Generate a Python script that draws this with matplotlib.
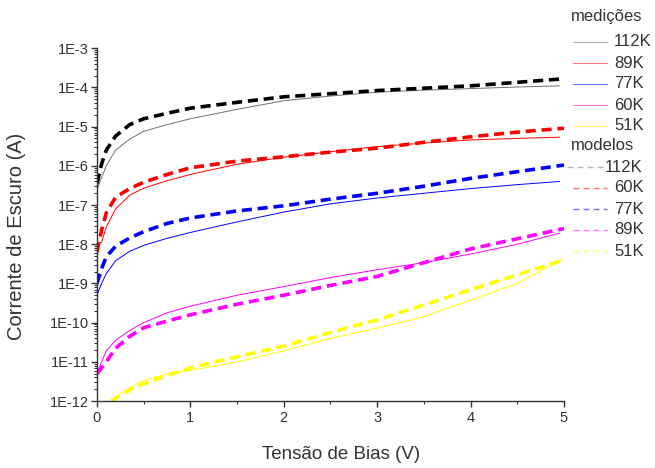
import numpy as np
import matplotlib
matplotlib.use("Agg")
from matplotlib import pyplot as plt
from matplotlib.lines import Line2D
from matplotlib.ticker import LogLocator, FixedLocator, MultipleLocator

plt.rcParams['font.family'] = ['Liberation Sans', 'DejaVu Sans']

# tension (V) where values were read
v = [0, 0.05, 0.1, 0.2, 0.35, 0.5, 0.75, 1, 1.5, 2, 2.5, 3, 3.5, 4, 4.5, 5]
v_meas = [0, 0.05, 0.1, 0.2, 0.35, 0.5, 0.75, 1, 1.5, 2, 2.5, 3, 3.5, 4, 4.5, 4.95]
v_y = [0.2, 0.35, 0.5, 0.75, 1, 1.5, 2, 2.5, 3, 3.5, 4, 4.5, 5]
v_ym = [0.15, 0.35, 0.5, 0.75, 1, 1.5, 2, 2.5, 3, 3.5, 4, 4.5, 5]

# log10 of current (A), measured
m112 = [-6.6, -6.3, -6.0, -5.6, -5.32, -5.12, -4.95, -4.8, -4.56, -4.34, -4.22, -4.12, -4.07, -4.03, -3.99, -3.96]
m89 = [-8.0, -7.95, -7.56, -7.1, -6.75, -6.57, -6.38, -6.22, -5.96, -5.78, -5.64, -5.51, -5.42, -5.34, -5.3, -5.27]
m77 = [-9.3, -9.0, -8.75, -8.42, -8.18, -8.03, -7.85, -7.7, -7.43, -7.18, -6.97, -6.82, -6.7, -6.58, -6.48, -6.4]
m60 = [-11.28, -11.0, -10.72, -10.45, -10.2, -10.0, -9.75, -9.58, -9.3, -9.08, -8.85, -8.65, -8.47, -8.25, -8.0, -7.72]
m51 = [-11.9, -11.66, -11.48, -11.3, -11.22, -11.0, -10.72, -10.4, -10.14, -9.85, -9.42, -9.0, -8.36]

# log10 of current (A), model
d112 = [-6.45, -5.95, -5.6, -5.24, -4.95, -4.8, -4.66, -4.53, -4.38, -4.24, -4.16, -4.08, -4.02, -3.96, -3.87, -3.78]
d89 = [-8.2, -7.64, -7.2, -6.8, -6.58, -6.42, -6.22, -6.05, -5.88, -5.77, -5.65, -5.55, -5.4, -5.26, -5.14, -5.04]
d77 = [-9.0, -8.62, -8.32, -8.05, -7.84, -7.68, -7.47, -7.33, -7.15, -7.02, -6.85, -6.7, -6.52, -6.32, -6.15, -5.98]
d60 = [-11.3, -11.15, -11.0, -10.65, -10.35, -10.13, -9.96, -9.8, -9.53, -9.3, -9.05, -8.82, -8.47, -8.12, -7.86, -7.6]
d51 = [-12.0, -11.72, -11.56, -11.35, -11.15, -10.87, -10.6, -10.25, -9.93, -9.55, -9.16, -8.78, -8.4]

meas_labels = ['112K', '89K', '77K', '60K', '51K']
model_labels = ['112K', '60K', '77K', '89K', '51K']
colors = ['#000000', '#ff0000', '#0000ff', '#ff00ff', '#ffff00']
meas_colors = ['#707070', '#ff0000', '#0000ff', '#ff00ff', '#ffff00']

fig = plt.figure(figsize=(6.55, 4.68), dpi=100)
ax = fig.add_axes([0.148, 0.143, 0.713, 0.754])

meas = [(v_meas, m112), (v_meas, m89), (v_meas, m77), (v_meas, m60), (v_y, m51)]
models = [(v, d112), (v, d89), (v, d77), (v, d60), (v_ym, d51)]

for (xs, ys), c in zip(meas, meas_colors):
    ax.plot(xs, 10 ** np.array(ys), color=c, lw=0.7)
for (xs, ys), c in zip(models, colors):
    ax.plot(xs, 10 ** np.array(ys), color=c, lw=2.6, ls=(0, (2.8, 1.6)))

ax.set_yscale('log')
ax.set_ylim(1e-12, 1e-3)
ax.set_xlim(0, 5)
ax.yaxis.set_major_locator(FixedLocator([10.0 ** k for k in range(-12, -2)]))
ax.yaxis.set_minor_locator(LogLocator(base=10, subs=np.arange(2, 10), numticks=20))
ax.set_yticklabels(['1E%d' % k for k in range(-12, -2)])
ax.xaxis.set_major_locator(MultipleLocator(1))
ax.xaxis.set_minor_locator(MultipleLocator(0.5))

for s in ['top', 'right']:
    ax.spines[s].set_visible(False)
for s in ['left', 'bottom']:
    ax.spines[s].set_linewidth(1.0)
    ax.spines[s].set_color('#333333')
ax.tick_params(which='major', direction='out', length=4, width=1, labelsize=10.5, colors='#333333')
ax.tick_params(which='minor', direction='out', length=2.5, width=0.8, colors='#333333')
ax.tick_params(axis='y', pad=2)

ax.set_xlabel('Tensão de Bias (V)', fontsize=13.5, color='#333333')
ax.set_ylabel('Corrente de Escuro (A)', fontsize=14.5, color='#333333')
ax.xaxis.set_label_coords(0.523, -0.128)
ax.yaxis.set_label_coords(-0.152, 0.467)

# legend drawn at the right, outside the axes (figure pixel coords)
H = 468.0
W = 655.0
def fy(py):
    return 1 - py / H
def fx(px):
    return px / W

fs = 12
fig.text(fx(571), fy(17), 'medições', fontsize=fs, color='#333333', va='center')
for i, (lab, c) in enumerate(zip(meas_labels, meas_colors)):
    py = 42 + 21 * i
    fig.add_artist(Line2D([fx(573), fx(607)], [fy(py), fy(py)], color=c, lw=0.8, alpha=0.55))
    fig.text(fx(614), fy(py), lab, fontsize=fs, color='#333333', va='center')

fig.text(fx(571), fy(146), 'modelos', fontsize=fs, color='#333333', va='center')
for i, (lab, c) in enumerate(zip(model_labels, colors)):
    py = 167 + 21 * i
    if i == 0:
        c = '#808080'
        x0 = 567
    else:
        x0 = 573
    fig.add_artist(Line2D([fx(x0), fx(604 if i == 0 else 607)], [fy(py), fy(py)], color=c, lw=1.0,
                          alpha=0.55, ls=(0, (4.3, 2.9))))
    fig.text(fx(605) if i == 0 else fx(614), fy(py), lab, fontsize=fs, color='#333333', va='center')

fig.savefig('out.png', dpi=100)
